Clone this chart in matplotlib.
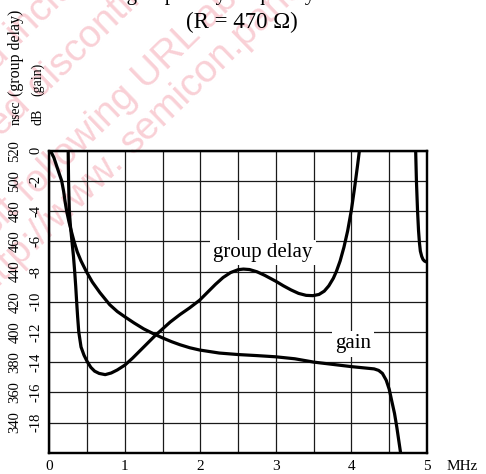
import math
import matplotlib
matplotlib.use("Agg")
import matplotlib.pyplot as plt

# ---------------- data ----------------
gain_freq = [0.0, 0.03, 0.06, 0.1, 0.13, 0.164, 0.19, 0.21, 0.23, 0.26, 0.29, 0.327,
             0.37, 0.42, 0.49, 0.57, 0.67, 0.8, 0.9, 1.0, 1.12, 1.25, 1.37, 1.5,
             1.62, 1.73, 1.86, 1.99, 2.25, 2.5, 2.75, 3.0, 3.25, 3.5, 3.75, 4.0,
             4.2, 4.3, 4.36, 4.41, 4.46, 4.5, 4.53, 4.57, 4.6, 4.65]
gain_db = [0.0, -0.15, -0.45, -1.05, -1.5, -2.0, -2.7, -3.4, -4.0, -4.7, -5.3, -6.0,
           -6.7, -7.3, -8.0, -8.7, -9.4, -10.2, -10.65, -11.0, -11.4, -11.8, -12.1,
           -12.4, -12.65, -12.85, -13.05, -13.2, -13.4, -13.5, -13.57, -13.65,
           -13.78, -14.0, -14.15, -14.3, -14.4, -14.45, -14.55, -14.75, -15.2,
           -15.8, -16.5, -17.4, -18.3, -20.0]

gd_freq_low = [0.245, 0.25, 0.255, 0.265, 0.28, 0.30, 0.32, 0.336, 0.35, 0.362, 0.375,
               0.39, 0.42, 0.46, 0.50, 0.55, 0.60, 0.66, 0.74, 0.82, 0.90, 1.0, 1.1,
               1.25, 1.4, 1.5, 1.6, 1.73, 1.86, 1.99, 2.1, 2.2, 2.3, 2.4, 2.5, 2.57,
               2.65, 2.75, 2.85, 3.0, 3.1, 3.2, 3.3, 3.4, 3.49, 3.57, 3.64, 3.7, 3.76,
               3.8, 3.85, 3.9, 3.95, 4.0, 4.04, 4.08, 4.11, 4.14]
gd_ns_low = [560, 520, 500, 480, 470, 460, 450, 440, 430, 420, 410,
             400, 390, 384.5, 380.5, 376.5, 374, 372.5, 371.7, 372.8, 374.8, 378, 382.5,
             390, 397.5, 402, 406.5, 411.5, 416, 421, 426.5, 431.5, 436, 439.3, 441.2,
             441.6, 441.3, 439.8, 437.5, 433.5, 430.5, 427.8, 425.5, 424.2, 424, 424.8,
             427, 430.5, 435.5, 440, 447, 456, 467, 481, 495, 510, 522, 535]

gd_freq_high = [4.84, 4.85, 4.86, 4.875, 4.888, 4.9, 4.912, 4.93, 4.947, 4.965, 4.983, 5.0]
gd_ns_high = [560, 520, 500, 480, 467, 459, 453.5, 450, 448, 447, 446.5, 446.3]

x_ticks = [0, 1, 2, 3, 4, 5]
x_tick_labels = ["0", "1", "2", "3", "4", "5"]
x_minor = [0.5, 1.5, 2.5, 3.5, 4.5]
db_ticks = [-20, -18, -16, -14, -12, -10, -8, -6, -4, -2, 0]
db_tick_labels = ["", "-18", "-16", "-14", "-12", "-10", "-8", "-6", "-4", "-2", "0"]
ns_ticks = [340, 360, 380, 400, 420, 440, 460, 480, 500, 520]
ns_tick_labels = ["340", "360", "380", "400", "420", "440", "460", "480", "500", "520"]

SERIF = "Liberation Serif"
W, H = 486, 474

fig = plt.figure(figsize=(W / 100, H / 100), dpi=100)
fig.patch.set_facecolor("white")

# ---------------- watermark ----------------
ANG = 44
WM_FS = 28
WM_COL = "#f9d0d6"
sp = 0.30 * WM_FS / 72 * 100  # approx space width in px


def wm(prefix, rest, x, y):
    fx, fy = x / W, 1 - y / H
    fig.text(fx, fy, rest, rotation=ANG, rotation_mode="anchor", ha="left",
             va="center", fontsize=WM_FS, color=WM_COL, family="Liberation Sans",
             zorder=-5)
    dx = sp * math.cos(math.radians(ANG))
    dy = sp * math.sin(math.radians(ANG))
    fig.text((x - dx) / W, 1 - (y + dy) / H, prefix, rotation=ANG,
             rotation_mode="anchor", ha="right", va="center", fontsize=WM_FS,
             color=WM_COL, family="Liberation Sans", zorder=-5)


wm("Maintenance/Discontinued", "includes following four Product lifecycle stage.", 12, 38)
wm("maintenance type, planed", "discontinued typed, discontinued type.", 33, 92)
wm("Please visit", "following URL about latest information.", 22, 196)
wm("http://www.", "semicon.panasonic.co.jp/en/", 126, 148)

# ---------------- axes ----------------
left, right, top, bottom = 49.3, 427.0, 150.7, 452.7
ax = fig.add_axes([left / W, 1 - bottom / H, (right - left) / W, (bottom - top) / H])
ax.patch.set_alpha(0)
ax.set_xlim(0, 5)
ax.set_ylim(-20, 0)

ax.set_xticks(x_ticks)
ax.set_xticklabels(x_tick_labels, fontsize=11, family=SERIF)
ax.set_xticks(x_minor, minor=True)
ax.set_yticks(db_ticks)
ax.set_yticklabels(db_tick_labels, fontsize=10.5, family=SERIF, rotation=90, va="center")
ax.tick_params(axis="both", which="both", length=0)
ax.tick_params(axis="x", pad=5)
ax.tick_params(axis="y", pad=5)
ax.grid(True, which="both", color="#1a1a1a", lw=0.9)
for s in ax.spines.values():
    s.set_linewidth(1.6)

ax.plot(gain_freq, gain_db, color="black", lw=2.3, solid_joinstyle="round", zorder=4)

ax2 = ax.twinx()
ax2.set_ylim(320, 520)
ax2.yaxis.tick_left()
ax2.set_yticks(ns_ticks)
ax2.set_yticklabels(ns_tick_labels, fontsize=10.5, family=SERIF, rotation=90, va="center")
ax2.tick_params(axis="y", length=0, pad=20)
for s in ax2.spines.values():
    s.set_linewidth(1.6)
ax2.plot(gd_freq_low, gd_ns_low, color="black", lw=2.3, solid_joinstyle="round", zorder=4)
ax2.plot(gd_freq_high, gd_ns_high, color="black", lw=2.3, solid_joinstyle="round", zorder=4)

box = dict(boxstyle="square,pad=0.15", fc="white", ec="none")
ax.text(2.83, -6.75, "group delay", ha="center", va="center", fontsize=15,
        family=SERIF, bbox=box, zorder=5)
ax.text(4.02, -12.8, "gain", ha="center", va="center", fontsize=15,
        family=SERIF, bbox=box, zorder=5)

ax.annotate("MHz", xy=(5.46, 0), xycoords=("data", "axes fraction"),
            xytext=(0, -10), textcoords="offset points", ha="center", va="center",
            fontsize=11, family=SERIF, annotation_clip=False)

# ---------------- header texts ----------------
fig.text(241.5 / W, 1 - 22 / H, "(R = 470 \u03a9)", ha="center", va="center",
         fontsize=16.5, family=SERIF)
fig.text(243 / W, 1.0, "Gain and group delay frequency characteristics",
         ha="center", va="baseline", fontsize=15, family=SERIF)

fig.text(16 / W, 1 - 125 / H, "nsec", rotation=90, ha="center", va="bottom",
         fontsize=10, family=SERIF)
fig.text(16 / W, 1 - 96 / H, "(group delay)", rotation=90, ha="center", va="bottom",
         fontsize=11.5, family=SERIF)
fig.text(38 / W, 1 - 125 / H, "dB", rotation=90, ha="center", va="bottom",
         fontsize=10, family=SERIF)
fig.text(38 / W, 1 - 96 / H, "(gain)", rotation=90, ha="center", va="bottom",
         fontsize=10, family=SERIF)

fig.savefig("out.png", dpi=100, facecolor="white")
